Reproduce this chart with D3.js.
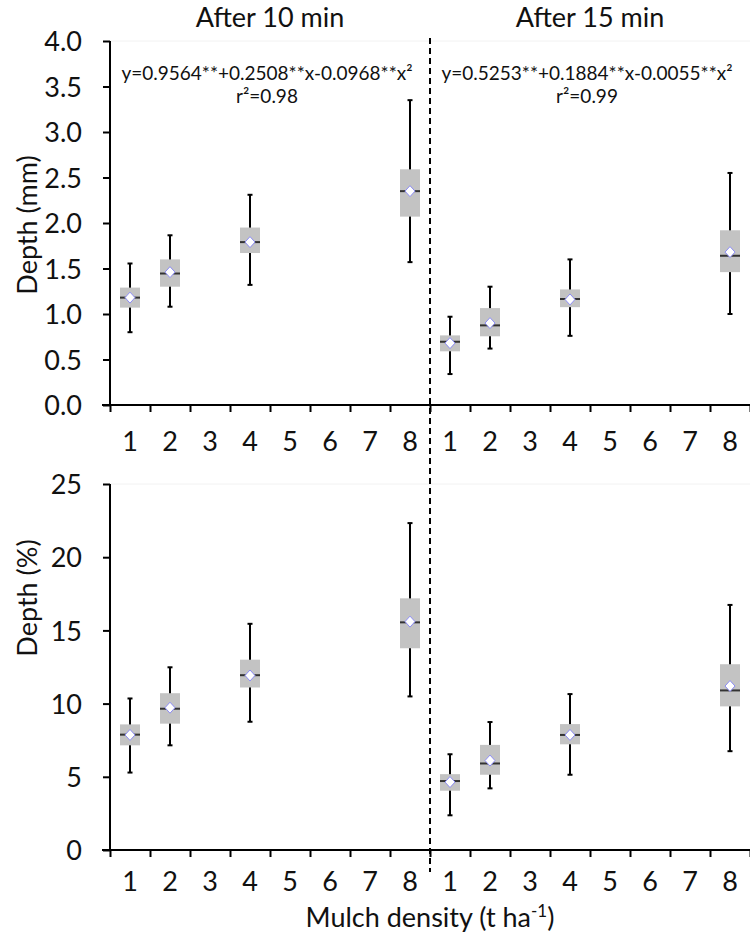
<!DOCTYPE html>
<html><head><meta charset="utf-8">
<script src="https://cdn.jsdelivr.net/npm/d3@7/dist/d3.min.js"></script>
<style>
body{margin:0;background:#fff;}
svg text{font-family:"Lato","Open Sans",sans-serif;fill:#111;}
</style></head>
<body><svg id="chart" width="750" height="935"></svg>
<script>
// ---- data ----
const categories = [1,2,3,4,5,6,7,8];
const groups = ["After 10 min","After 15 min"];
const boxPositions = [1,2,4,8];
// Depth (mm)
const mm10_low  = [0.80, 1.08, 1.32, 1.57];
const mm10_q1   = [1.07, 1.30, 1.67, 2.07];
const mm10_med  = [1.18, 1.445,1.79, 2.35];
const mm10_q3   = [1.29, 1.60, 1.95, 2.59];
const mm10_high = [1.555,1.865,2.31, 3.35];
const mm10_mean = [1.18, 1.46, 1.79, 2.35];
const mm15_low  = [0.34, 0.62, 0.76, 1.00];
const mm15_q1   = [0.59, 0.755,1.075,1.46];
const mm15_med  = [0.695,0.875,1.165,1.64];
const mm15_q3   = [0.765,1.065,1.27, 1.92];
const mm15_high = [0.97, 1.30, 1.60, 2.55];
const mm15_mean = [0.68, 0.90, 1.16, 1.68];
// Depth (%)
const pc10_low  = [5.29, 7.15, 8.76, 10.49];
const pc10_q1   = [7.15, 8.63, 11.1, 13.78];
const pc10_med  = [7.88, 9.65, 11.94,15.55];
const pc10_q3   = [8.58, 10.71,13.0, 17.19];
const pc10_high = [10.35,12.48,15.45,22.33];
const pc10_mean = [7.86, 9.72, 11.92,15.6];
const pc15_low  = [2.37, 4.21, 5.14, 6.75];
const pc15_q1   = [4.05, 5.14, 7.22, 9.81];
const pc15_med  = [4.71, 5.91, 7.86, 10.9];
const pc15_q3   = [5.18, 7.18, 8.6, 12.69];
const pc15_high = [6.54, 8.74, 10.65,16.74];
const pc15_mean = [4.64, 6.11, 7.86, 11.2];
const mmTicks = [0,0.5,1,1.5,2,2.5,3,3.5,4];
const pcTicks = [0,5,10,15,20,25];
const eq10 = ["y=0.9564**+0.2508**x-0.0968**x²","r²=0.98"];
const eq15 = ["y=0.5253**+0.1884**x-0.0055**x²","r²=0.99"];

function pack(low,q1,med,q3,high,mean){
  return boxPositions.map((p,i)=>({pos:p,low:low[i],q1:q1[i],med:med[i],q3:q3[i],high:high[i],mean:mean[i]}));
}

const FS = 27;
const svg = d3.select("#chart");
const x = d3.scaleLinear().domain([0.5,16.5]).range([110,750]);
const slot = (g,c)=> g*8 + c; // group index, category

function panel(opts){
  const y = d3.scaleLinear().domain(opts.domain).range(opts.range);
  const g = svg.append("g");
  g.append("line").attr("x1",110).attr("x2",750).attr("y1",y(opts.domain[1])).attr("y2",y(opts.domain[1]))
    .attr("stroke","#f2f2f2").attr("stroke-width",1);
  const ya = g.append("g").attr("transform","translate(110,0)")
    .call(d3.axisLeft(y).tickValues(opts.ticks).tickFormat(opts.fmt).tickSize(7).tickPadding(21));
  ya.select(".domain").attr("stroke","#000").attr("stroke-width",2).attr("d",`M0,${y(opts.domain[0])}V${y(opts.domain[1])}`);
  ya.selectAll(".tick line").attr("stroke","#000").attr("stroke-width",2);
  ya.selectAll(".tick text").attr("font-size",FS).attr("fill","#111").attr("font-family","Lato").attr("dy","0.36em");
  const xb = d3.range(0.5,17,1);
  const xa = g.append("g").attr("transform",`translate(0,${y(0)})`)
    .call(d3.axisBottom(x).tickValues(xb).tickFormat("").tickSize(7));
  xa.select(".domain").attr("stroke","#000").attr("stroke-width",2).attr("d","M102,0H750");
  xa.selectAll(".tick line").attr("stroke","#000").attr("stroke-width",2);
  groups.forEach((gn,gi)=>{
    g.selectAll(null).data(categories).enter().append("text")
      .attr("x",c=>x(slot(gi,c))).attr("y",y(0)+opts.labelOff).attr("text-anchor","middle")
      .attr("font-size",FS).text(c=>c);
  });
  g.append("text").attr("transform",`translate(37,${opts.titleY}) rotate(-90)`)
    .attr("text-anchor","middle").attr("font-size",FS).text(opts.ylabel);
  opts.sets.forEach((data,gi)=>{
    const bw = 20;
    const bg = g.selectAll(null).data(data).enter().append("g");
    bg.append("line").attr("x1",d=>x(slot(gi,d.pos))).attr("x2",d=>x(slot(gi,d.pos)))
      .attr("y1",d=>y(d.low)).attr("y2",d=>y(d.high)).attr("stroke","#000").attr("stroke-width",2);
    ["low","high"].forEach(k=>{
      bg.append("line").attr("x1",d=>x(slot(gi,d.pos))-2.5).attr("x2",d=>x(slot(gi,d.pos))+2.5)
        .attr("y1",d=>y(d[k])).attr("y2",d=>y(d[k])).attr("stroke","#000").attr("stroke-width",2);
    });
    bg.append("rect").attr("x",d=>x(slot(gi,d.pos))-bw/2).attr("width",bw)
      .attr("y",d=>y(d.q3)).attr("height",d=>y(d.q1)-y(d.q3)).attr("fill","#c3c3c3");
    bg.append("line").attr("x1",d=>x(slot(gi,d.pos))-bw/2).attr("x2",d=>x(slot(gi,d.pos))+bw/2)
      .attr("y1",d=>y(d.med)).attr("y2",d=>y(d.med)).attr("stroke","#333").attr("stroke-width",2);
    bg.append("path").attr("transform",d=>`translate(${x(slot(gi,d.pos))},${y(d.mean)})`)
      .attr("d","M0,-5.5L5,0L0,5.5L-5,0Z").attr("fill","#fff").attr("stroke","#8c8cf5").attr("stroke-width",1);
  });
  return y;
}

panel({domain:[0,4],range:[405,41],ticks:mmTicks,fmt:d3.format(".1f"),ylabel:"Depth (mm)",titleY:225,labelOff:46,
  sets:[pack(mm10_low,mm10_q1,mm10_med,mm10_q3,mm10_high,mm10_mean),pack(mm15_low,mm15_q1,mm15_med,mm15_q3,mm15_high,mm15_mean)]});
panel({domain:[0,25],range:[850,484],ticks:pcTicks,fmt:d3.format("d"),ylabel:"Depth (%)",titleY:598,labelOff:41,
  sets:[pack(pc10_low,pc10_q1,pc10_med,pc10_q3,pc10_high,pc10_mean),pack(pc15_low,pc15_q1,pc15_med,pc15_q3,pc15_high,pc15_mean)]});

groups.forEach((gn,gi)=>{
  svg.append("text").attr("x",(x(slot(gi,1))+x(slot(gi,8)))/2).attr("y",27)
    .attr("text-anchor","middle").attr("font-size",FS).text(gn);
});
[eq10,eq15].forEach((eq,gi)=>{
  const cx = (x(slot(gi,1))+x(slot(gi,8)))/2 - 3;
  svg.append("text").attr("x",cx).attr("y",80).attr("text-anchor","middle").attr("font-size",19).text(eq[0]);
  svg.append("text").attr("x",cx).attr("y",103).attr("text-anchor","middle").attr("font-size",19).text(eq[1]);
});
svg.append("line").attr("x1",x(8.5)).attr("x2",x(8.5)).attr("y1",38).attr("y2",872)
  .attr("stroke","#000").attr("stroke-width",2).attr("stroke-dasharray","6,4");
const xt = svg.append("text").attr("x",430).attr("y",927).attr("text-anchor","middle").attr("font-size",FS);
xt.append("tspan").text("Mulch density (t ha");
xt.append("tspan").attr("dy",-10).attr("font-size",17).text("-1");
xt.append("tspan").attr("dy",10).text(")");
</script></body></html>
